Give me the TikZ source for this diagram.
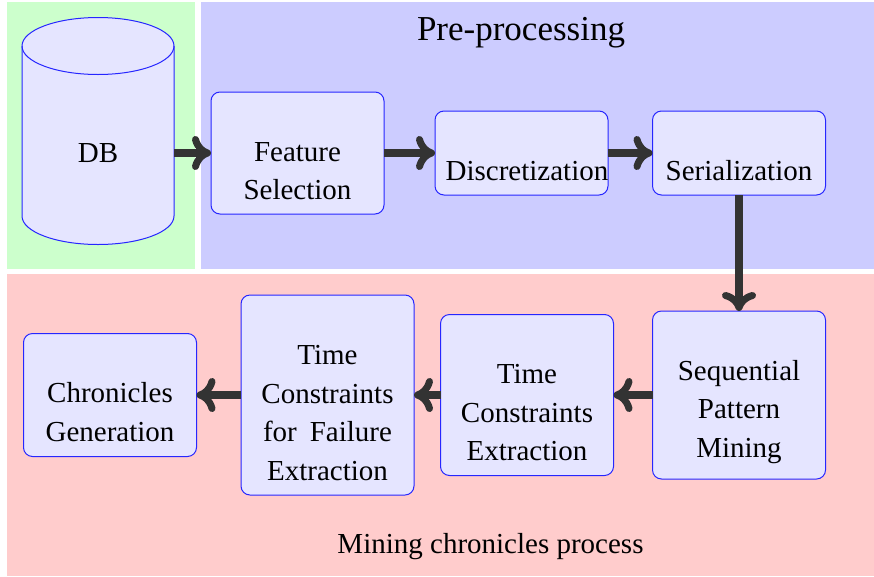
\documentclass[tikz,border=0pt]{standalone}
\usepackage{fontspec}
\setmainfont{Liberation Serif}
\usetikzlibrary{arrows.meta,shapes.geometric,backgrounds}
\tikzset{
  bx/.style={rectangle,draw=blue!85!white,fill=blue!10,line width=1pt,rounded corners=9pt,inner sep=0pt,outer sep=0pt,minimum width=173pt},
  txt/.style={align=center,font=\fontsize{29}{38.5}\selectfont,text=black},
  conn/.style={draw=black!80,line width=8pt,-{Computer Modern Rightarrow[round,length=19pt,width=34pt,line width=7pt]},shorten >=0pt},
  band/.style={rectangle,draw=none,inner sep=0pt,outer sep=0pt,anchor=north west},
  cyl/.style={draw=blue!85!white,fill=blue!10,line width=1pt}
}
\begin{document}
\begin{tikzpicture}[x=1pt,y=-1pt]
\useasboundingbox (0,0) rectangle (874,576);
\fill[white] (0,0) rectangle (874,576);
\node[band,fill=green!20,minimum width=188pt,minimum height=267pt] (bgA) at (7,2) {};
\node[band,fill=blue!20,minimum width=673pt,minimum height=267pt] (bgB) at (201,2) {};
\node[band,fill=red!20,minimum width=867pt,minimum height=302pt] (bgC) at (7,274) {};
\node[txt,font=\fontsize{35}{40}\selectfont] (pre) at (521,33) {Pre-processing};
\node[txt,font=\fontsize{29}{34}\selectfont] (min) at (490.5,547) {Mining chronicles process};
% cylinder
\path[cyl] (22,46) -- (22,216) arc[start angle=180,end angle=360,x radius=76pt,y radius=28.5pt]
  -- (174,46) arc[start angle=0,end angle=180,x radius=76pt,y radius=28.5pt] -- cycle;
\path[cyl,fill=none] (22,46) arc[start angle=180,end angle=360,x radius=76pt,y radius=28.5pt];
\node[rectangle,inner sep=0pt,outer sep=0pt,minimum width=152pt,minimum height=227pt,
  label={[txt,yshift=-22.5pt]center:DB}] (db) at (98,130.5) {};
\node[bx,minimum height=122pt,label={[txt,yshift=-18pt]center:Feature\\Selection}] (fs) at (297.5,153) {};
\node[bx,minimum height=84pt,label={[txt,yshift=-18pt,xshift=5.5pt]center:Discretization}] (di) at (521.5,153) {};
\node[bx,minimum height=84pt,label={[txt,yshift=-18pt]center:Serialization}] (se) at (739,153) {};
\node[bx,minimum height=168pt,label={[txt,yshift=-17pt]center:Sequential\\Pattern\\Mining}] (sp) at (739,395) {};
\node[bx,minimum height=161pt,label={[txt,yshift=-18pt]center:Time\\Constraints\\Extraction}] (tc) at (527,395) {};
\node[bx,minimum height=200pt,label={[txt,yshift=-18pt]center:Time\\Constraints\\for\hspace{0.45em}Failure\\Extraction}] (tf) at (327.5,395) {};
\node[bx,minimum height=123pt,label={[txt,yshift=-17pt]center:Chronicles\\Generation}] (cg) at (110,395) {};
\draw[conn] (db.east |- fs.west) -- (fs.west);
\draw[conn] (fs) -- (di);
\draw[conn] (di) -- (se);
\draw[conn] (se) -- (sp);
\draw[conn] (sp) -- (tc);
\draw[conn] (tc) -- (tf);
\draw[conn] (tf) -- (cg);
\end{tikzpicture}
\end{document}
